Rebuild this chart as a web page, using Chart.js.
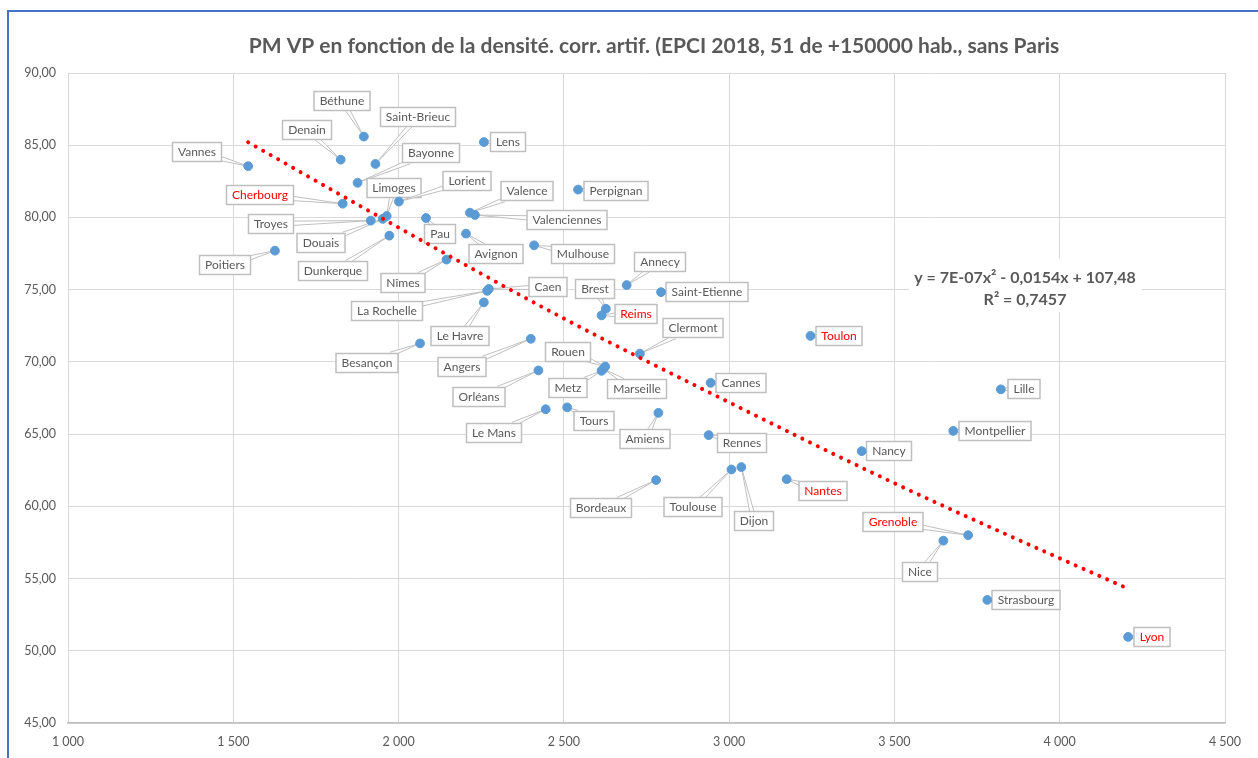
<!DOCTYPE html>
<html>
<head>
<meta charset="utf-8">
<script src="https://cdn.jsdelivr.net/npm/chart.js@4"></script>
<style>
  body { margin: 0; background: #fff; }
  #wrap { position: relative; width: 1258px; height: 758px; overflow: hidden; }
  #frame { position: absolute; left: 7px; top: 10px; width: 1400px; height: 900px;
           border-left: 2px solid #4472c4; border-top: 2px solid #4472c4; pointer-events: none; }
</style>
</head>
<body>
<div id="wrap">
  <canvas id="myChart" width="1258" height="758"></canvas>
  <div id="frame"></div>
</div>
<script>
// EPCI 2018 : densite corrigee (x) et part modale VP (y)
cities = ['Vannes','Poitiers','Denain','Béthune','Saint-Brieuc','Bayonne','Cherbourg','Limoges','Troyes','Douais',
          'Dunkerque','Lorient','Lens','Pau','Valence','Valenciennes','Avignon','Perpignan','Mulhouse','Nîmes',
          'Caen','La Rochelle','Le Havre','Annecy','Saint-Etienne','Brest','Reims','Clermont','Angers','Orléans',
          'Rouen','Metz','Marseille','Cannes','Besançon','Le Mans','Tours','Amiens','Rennes','Toulouse',
          'Dijon','Bordeaux','Nantes','Toulon','Nancy','Grenoble','Lille','Montpellier','Nice','Strasbourg','Lyon'];
densite = [1545,1626,1825,1895,1930,1876,1831,1964,1916,1952,
           1972,2001,2258,2083,2216,2231,2204,2543,2410,2145,
           2273,2268,2258,2690,2794,2627,2614,2730,2400,2423,
           2625,2614,2620,2944,2065,2445,2510,2786,2938,3007,
           3037,2779,3174,3246,3401,3723,3822,3678,3648,3781,4207];
pmvp = [83.55,77.7,84.0,85.6,83.7,82.4,80.95,80.1,79.78,79.9,
        78.74,81.1,85.22,79.96,80.33,80.17,78.88,81.93,78.07,77.08,
        75.05,74.92,74.12,75.32,74.83,73.68,73.22,70.57,71.6,69.41,
        69.68,69.38,69.52,68.55,71.28,66.72,66.85,66.47,64.93,62.55,
        62.72,61.82,61.88,71.8,63.82,58.0,68.1,65.22,57.62,53.52,50.96];
redCities = ['Cherbourg','Reims','Toulon','Nantes','Grenoble','Lyon'];

// courbe de tendance polynomiale
trendX = [1545,2000,2500,3000,3500,4000,4207];
trendY = [85.2,79.3,73.0,67.2,61.6,56.4,54.3];
equation = ['y = 7E-07x² - 0,0154x + 107,48', 'R² = 0,7457'];
title = 'PM VP en fonction de la densité. corr. artif. (EPCI 2018, 51 de +150000 hab., sans Paris';

// position des etiquettes (decalage en pixels du centre de l'etiquette par rapport au point)
labelOffsets = {
  'Vannes':[-51,-14],'Poitiers':[-50,14],'Denain':[-34,-30],'Béthune':[-22,-36],'Saint-Brieuc':[43,-47],
  'Bayonne':[73,-30],'Cherbourg':[-83,-9],'Limoges':[7,-28],'Troyes':[-100,3],'Douais':[-62,24],
  'Dunkerque':[-56,35],'Lorient':[68,-21],'Lens':[24,0],'Pau':[14,16],'Valence':[57,-22],
  'Valenciennes':[92,5],'Avignon':[30,20],'Perpignan':[38,1],'Mulhouse':[49,9],'Nîmes':[-44,23],
  'Caen':[59,-2],'La Rochelle':[-100,20],'Le Havre':[-24,34],'Annecy':[33,-23],'Saint-Etienne':[46,0],
  'Brest':[-11,-20],'Reims':[34,-1],'Clermont':[53,-26],'Angers':[-69,28],'Orléans':[-59,27],
  'Rouen':[-37,-15],'Metz':[-34,17],'Marseille':[33,20],'Cannes':[30,0],'Besançon':[-53,20],
  'Le Mans':[-52,24],'Tours':[27,14],'Amiens':[-13,26],'Rennes':[33,8],'Toulouse':[-38,37],
  'Dijon':[13,54],'Bordeaux':[-55,28],'Nantes':[36,12],'Toulon':[29,0],'Nancy':[27,0],
  'Grenoble':[-75,-13],'Lille':[23,0],'Montpellier':[42,0],'Nice':[-23,31],'Strasbourg':[39,0],'Lyon':[24,0]
};

var points = densite.map(function(x, i){ return {x: x, y: pmvp[i]}; });
var trend = trendX.map(function(x, i){ return {x: x, y: trendY[i]}; });

var calloutPlugin = {
  id: 'callouts',
  beforeDatasetsDraw: function(chart) {
    var ctx = chart.ctx, xs = chart.scales.x, ys = chart.scales.y;
    ctx.save();
    ctx.font = '12px Lato';
    ctx.textAlign = 'center';
    ctx.textBaseline = 'middle';
    cities.forEach(function(name, i) {
      var px = xs.getPixelForValue(densite[i]), py = ys.getPixelForValue(pmvp[i]);
      var off = labelOffsets[name] || [25, 0];
      var cx = Math.round(px + off[0]), cy = Math.round(py + off[1]);
      var w = Math.round(ctx.measureText(name).width + 11), h = 19;
      var dx = px - cx, dy = py - cy, len = Math.hypot(dx, dy);
      if (len > 1) {
        var ux = dx / len, uy = dy / len;
        var t = Math.min(w / 2 / Math.max(Math.abs(ux), 1e-6), h / 2 / Math.max(Math.abs(uy), 1e-6));
        if (t < len) {
          var ex = cx + ux * (t - 2), ey = cy + uy * (t - 2);
          var nx = -uy, ny = ux, hw = 2.2;
          ctx.beginPath();
          ctx.moveTo(ex + nx * hw, ey + ny * hw);
          ctx.lineTo(px, py);
          ctx.lineTo(ex - nx * hw, ey - ny * hw);
          ctx.fillStyle = '#ffffff';
          ctx.fill();
          ctx.strokeStyle = '#bfbfbf';
          ctx.lineWidth = 1;
          ctx.stroke();
        }
      }
      ctx.fillStyle = '#ffffff';
      ctx.fillRect(cx - w / 2, cy - h / 2, w, h);
      ctx.strokeStyle = '#bfbfbf';
      ctx.lineWidth = 1.5;
      ctx.strokeRect(cx - w / 2, cy - h / 2, w, h);
      ctx.fillStyle = redCities.indexOf(name) >= 0 ? '#ff0000' : '#595959';
      ctx.fillText(name, cx, cy + 0.5);
    });
    ctx.restore();
  },
  afterDraw: function(chart) {
    var ctx = chart.ctx, xs = chart.scales.x, ys = chart.scales.y;
    var cx = xs.getPixelForValue(3895), cy = ys.getPixelForValue(75.05);
    ctx.save();
    ctx.fillStyle = '#ffffff';
    ctx.fillRect(cx - 116, cy - 30, 233, 53);
    ctx.font = 'bold 16px Lato';
    ctx.textAlign = 'center';
    ctx.textBaseline = 'middle';
    ctx.fillStyle = '#595959';
    ctx.fillText(equation[0], cx, cy - 11);
    ctx.fillText(equation[1], cx, cy + 11);
    // titre (le cadre du graphique depasse a droite, il n'est donc pas centre sur la page)
    ctx.font = 'bold 21px Lato';
    ctx.fillText(title, 654, 46);
    ctx.restore();
  }
};

var ctx = document.getElementById('myChart').getContext('2d');
var chart = new Chart(ctx, {
  type: 'scatter',
  data: {
    datasets: [
      {
        label: 'PM VP',
        data: points,
        backgroundColor: '#5b9bd5',
        borderColor: '#5b9bd5',
        pointRadius: 4.4,
        order: 1
      },
      {
        label: 'tendance',
        type: 'line',
        data: trend,
        showLine: true,
        fill: false,
        borderColor: '#ff0000',
        borderWidth: 4,
        borderDash: [0.01, 8.6],
        borderCapStyle: 'round',
        cubicInterpolationMode: 'monotone',
        pointRadius: 0,
        order: 0
      }
    ]
  },
  options: {
    responsive: false,
    animation: false,
    layout: { padding: { left: 8, right: 33, top: 73, bottom: 0 } },
    plugins: {
      legend: { display: false },
      tooltip: { enabled: false },
      title: { display: false }
    },
    scales: {
      x: {
        type: 'linear',
        min: 1000, max: 4500,
        ticks: {
          stepSize: 500,
          color: '#595959',
          font: { family: 'Lato', size: 12.5 },
          padding: 11,
          callback: function(v){ return String(v).replace(/\B(?=(\d{3})+(?!\d))/g, ' '); }
        },
        grid: { color: '#d9d9d9', drawTicks: false },
        border: { color: '#bfbfbf', width: 1.5 },
        afterFit: function(s){ s.height = 35; }
      },
      y: {
        min: 45, max: 90,
        ticks: {
          stepSize: 5,
          color: '#595959',
          font: { family: 'Lato', size: 12.5 },
          padding: 12,
          callback: function(v){ return v.toFixed(2).replace('.', ','); }
        },
        grid: { color: '#d9d9d9', drawTicks: false },
        border: { display: false },
        afterFit: function(s){ s.width = 60; }
      }
    }
  },
  plugins: [calloutPlugin]
});
</script>
</body>
</html>
